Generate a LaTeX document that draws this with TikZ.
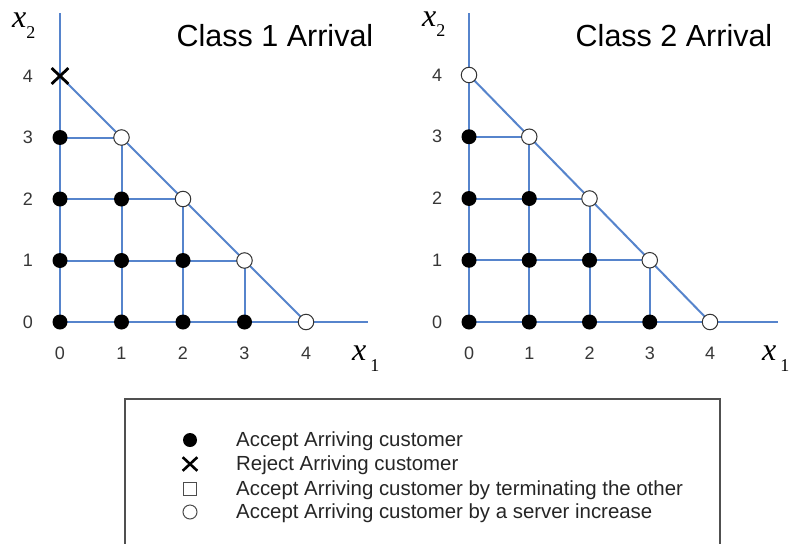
\documentclass[tikz,border=0pt]{standalone}
\usepackage{fontspec}
\setmainfont{Liberation Sans}
\newfontfamily\tmsfont{Liberation Serif}
\usetikzlibrary{shapes.misc}
\definecolor{gridblue}{RGB}{86,132,204}
\definecolor{ticktext}{RGB}{55,55,55}
\definecolor{boxgray}{RGB}{80,80,80}
\begin{document}
\begin{tikzpicture}[x=1pt,y=-1pt,
  gridline/.style={draw=gridblue, line width=2pt},
  acc/.style={circle, fill=black, inner sep=0pt, minimum size=15pt},
  srv/.style={circle, draw=black!80, fill=white, line width=1pt, inner sep=0pt, minimum size=15.5pt},
  rej/.style={cross out, draw=black, line width=2.8pt, inner sep=0pt, minimum width=14pt, minimum height=13pt},
  tick/.style={font=\fontsize{18}{18}\selectfont, text=ticktext},
  title/.style={font=\fontsize{30.5}{30.5}\selectfont, anchor=base},
  axlab/.style={font=\tmsfont\itshape\fontsize{32}{32}\selectfont, anchor=base west, inner sep=0pt},
  legtext/.style={font=\fontsize{20.4}{21}\selectfont, anchor=base west, text=black!85, inner sep=0pt},
  legacc/.style={circle, fill=black, inner sep=0pt, minimum size=14pt},
  legrej/.style={cross out, draw=black, line width=2.6pt, inner sep=0pt, minimum width=12pt, minimum height=11pt},
  legsq/.style={rectangle, draw=black!70, line width=1pt, fill=white, inner sep=0pt, minimum size=13pt},
  legsrv/.style={circle, draw=black!70, line width=1pt, fill=white, inner sep=0pt, minimum size=14pt}
]
\useasboundingbox (0,0) rectangle (791,543);
\fill[white] (0,0) rectangle (791,543);

% lattice coordinates
\foreach \i in {0,...,4}{\foreach \j in {0,...,4}{
  \coordinate (L\i\j) at ({60+61.5*\i},{322-61.5*\j});
  \coordinate (R\i\j) at ({469+60.25*\i},{322-61.75*\j});
}}
\coordinate (Ltop) at (60,13);
\coordinate (Lend) at (368,322);
\coordinate (Rtop) at (469,13);
\coordinate (Rend) at (778,322);

% grid lines
\foreach \P in {L,R}{
  \draw[gridline] (\P00) -- (\P top);
  \draw[gridline] (\P00) -- (\P end);
  \draw[gridline] (\P04) -- (\P40);
  \draw[gridline] (\P03) -- (\P13);
  \draw[gridline] (\P02) -- (\P22);
  \draw[gridline] (\P01) -- (\P31);
  \draw[gridline] (\P10) -- (\P13);
  \draw[gridline] (\P20) -- (\P22);
  \draw[gridline] (\P30) -- (\P31);
}

% markers
\foreach \p in {00,10,20,30,01,11,21,02,12,03}{
  \node[acc] (mL\p) at (L\p) {};
  \node[acc] (mR\p) at (R\p) {};
}
\foreach \p in {13,22,31,40}{
  \node[srv] (mL\p) at (L\p) {};
  \node[srv] (mR\p) at (R\p) {};
}
\node[rej] (mL04) at (L04) {};
\node[srv] (mR04) at (R04) {};

% tick labels
\foreach \k in {0,...,4}{
  \node[tick, yshift=-31pt] (xtL\k) at (L\k0) {\k};
  \node[tick, xshift=-32pt] (ytL\k) at (L0\k) {\k};
  \node[tick, yshift=-31pt] (xtR\k) at (R\k0) {\k};
  \node[tick, xshift=-32pt] (ytR\k) at (R0\k) {\k};
}

% axis labels
\node[axlab] (x2L) at (12,28) {x\raisebox{-10pt}{\fontsize{18}{18}\selectfont\upshape 2}};
\node[axlab] (x1L) at (352,360) {x\hspace{4pt}\raisebox{-11pt}{\fontsize{18}{18}\selectfont\upshape 1}};
\node[axlab] (x2R) at (422,27) {x\raisebox{-10pt}{\fontsize{18}{18}\selectfont\upshape 2}};
\node[axlab] (x1R) at (762,360) {x\hspace{4pt}\raisebox{-11pt}{\fontsize{18}{18}\selectfont\upshape 1}};

% titles
\node[title] (t1) at (275,47) {Class 1 Arrival};
\node[title] (t2) at (674,47) {Class 2 Arrival};

% legend box (bottom edge lies outside the picture)
\draw[boxgray, line width=1.4pt] (125,560) -- (125,399) -- (720,399) -- (720,560);

\node[legacc] (s1) at (190,440) {};
\node[legrej] (s2) at (190,464) {};
\node[legsq]  (s3) at (190,489) {};
\node[legsrv] (s4) at (190,512) {};
\node[legtext] (l1) at (236,446) {Accept Arriving customer};
\node[legtext] (l2) at (236,470) {Reject Arriving customer};
\node[legtext] (l3) at (236,495) {Accept Arriving customer by terminating the other};
\node[legtext] (l4) at (236,518) {Accept Arriving customer by a server increase};
\end{tikzpicture}
\end{document}
